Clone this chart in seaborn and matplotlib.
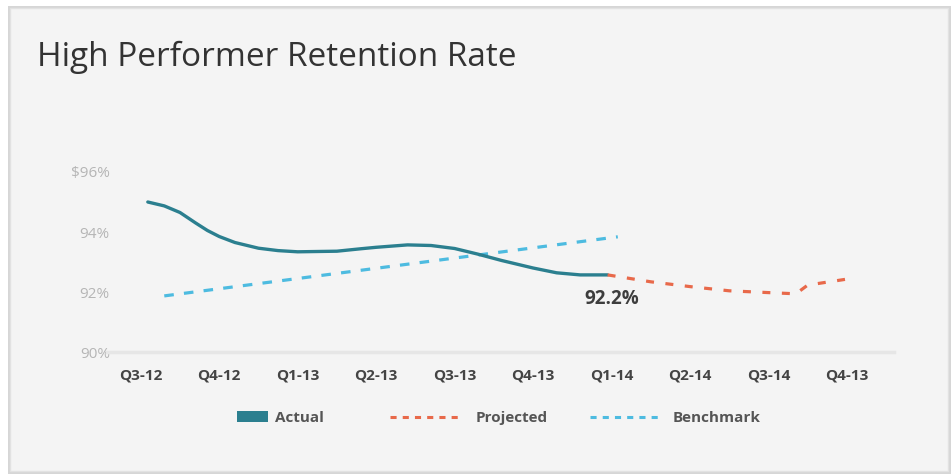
import numpy as np
import pandas as pd
import seaborn as sns
import matplotlib.pyplot as plt
from matplotlib.patches import Rectangle, Patch
from matplotlib.lines import Line2D
from matplotlib.legend_handler import HandlerPatch

# quarter labels on the x axis
quarters = ["Q3-12", "Q4-12", "Q1-13", "Q2-13", "Q3-13", "Q4-13", "Q1-14", "Q2-14", "Q3-14", "Q4-13"]

# actual retention (x in quarter units)
actual_x = [0.09, 0.3, 0.5, 0.7, 0.85, 1.0, 1.2, 1.5, 1.75, 2.0, 2.5, 2.8, 3.0, 3.4, 3.7,
            4.0, 4.3, 4.6, 5.0, 5.3, 5.6, 5.95]
actual_y = [95.0, 94.87, 94.65, 94.3, 94.05, 93.85, 93.65, 93.46, 93.38, 93.34, 93.36, 93.44,
            93.49, 93.57, 93.55, 93.45, 93.26, 93.05, 92.8, 92.64, 92.57, 92.57]

# projected retention
proj_x = [5.95, 6.5, 7.0, 7.5, 8.0, 8.35, 8.5, 9.0, 9.07]
proj_y = [92.57, 92.34, 92.18, 92.04, 91.98, 91.94, 92.23, 92.43, 92.45]

# benchmark (straight trend)
bench_x = [0.3, 6.08]
bench_y = [91.87, 93.84]

yticks = [90, 92, 94, 96]
ytick_labels = ["90%", "92%", "94%", "$96%"]

c_actual = "#2b7f8f"
c_proj = "#e8694a"
c_bench = "#4dbbe0"

sns.set_theme(style="white")
plt.rcParams["font.family"] = ["Open Sans", "DejaVu Sans"]

fig = plt.figure(figsize=(9.53, 4.76), dpi=100)
fig.patch.set_facecolor("#ffffff")

# card with a soft shadow
W, H = 953, 476
fig.patches.append(Rectangle((8 / W, 1 - 474 / H), 943 / W, 468 / H, transform=fig.transFigure,
                             facecolor="#d6d6d6", edgecolor="none", zorder=-3))
fig.patches.append(Rectangle((10 / W, 1 - 471 / H), 938 / W, 463 / H, transform=fig.transFigure,
                             facecolor="#f4f4f4", edgecolor="#e2e2e2", lw=1, zorder=-2))

ax = fig.add_axes([107 / W, 1 - 352 / H, (894 - 107) / W, 195 / H])
ax.set_facecolor("none")

df_a = pd.DataFrame({"x": actual_x, "y": actual_y})
df_p = pd.DataFrame({"x": proj_x, "y": proj_y})
df_b = pd.DataFrame({"x": bench_x, "y": bench_y})

sns.lineplot(data=df_b, x="x", y="y", ax=ax, color=c_bench, lw=2.3, sort=False)
ax.lines[-1].set_dashes((3, 3.2))
sns.lineplot(data=df_a, x="x", y="y", ax=ax, color=c_actual, lw=2.4, sort=False)
ax.lines[-1].set_solid_joinstyle("round")
sns.lineplot(data=df_p, x="x", y="y", ax=ax, color=c_proj, lw=2.3, sort=False)
ax.lines[-1].set_dashes((2.5, 3.6))

ax.annotate("92.2%", xy=(6.0, 92.2), xytext=(0, -9), textcoords="offset points",
            ha="center", va="center", fontsize=13.5, fontweight="bold", color="#3d3d3d")

ax.set_xlim(-0.43, 9.6)
ax.set_ylim(90, 96.5)
ax.set_xticks(range(len(quarters)))
ax.set_xticklabels(quarters, fontsize=11, fontweight="bold", color="#444444")
ax.set_yticks(yticks)
ax.set_yticklabels(ytick_labels, fontsize=11, color="#b5b5b5")
ax.tick_params(axis="x", length=0, pad=12)
ax.tick_params(axis="y", length=0, pad=-2)
ax.set_xlabel("")
ax.set_ylabel("")
for s in ["top", "right", "left"]:
    ax.spines[s].set_visible(False)
ax.spines["bottom"].set_color("#e6e6e6")
ax.spines["bottom"].set_linewidth(2.5)

fig.text(37 / W, 1 - 57 / H, "High Performer Retention Rate", fontsize=24, color="#333333",
         ha="left", va="center")

# legend items placed one by one, as in the reference
leg_y = 1 - 418 / H
items = [
    (Patch(facecolor=c_actual, edgecolor="none"), "Actual", 237, 2.0, 0.5),
    (Line2D([], [], color=c_proj, lw=2.2, dashes=(2, 2)), "Projected", 390, 4.7, 0.9),
    (Line2D([], [], color=c_bench, lw=2.2, dashes=(2, 2)), "Benchmark", 590, 4.6, 0.8),
]
for handle, label, x0, hl, tp in items:
    leg = fig.legend([handle], [label], loc="center left", bbox_to_anchor=(x0 / W, leg_y),
                     frameon=False, borderpad=0, borderaxespad=0, handlelength=hl,
                     handleheight=0.75, handletextpad=tp,
                     prop={"size": 11, "weight": "bold"}, labelcolor="#555555")

fig.savefig("out.png", dpi=100, facecolor=fig.get_facecolor())
